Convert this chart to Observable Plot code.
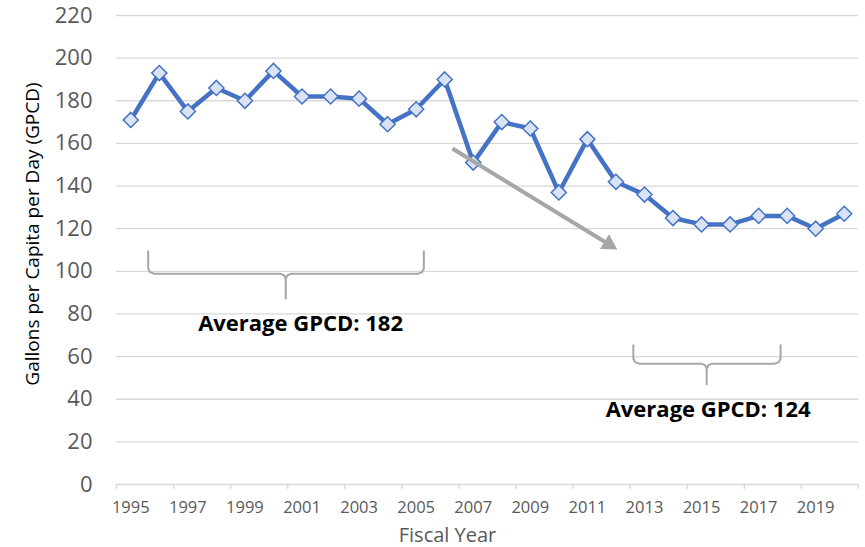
<!DOCTYPE html>
<html>
<head>
<meta charset="utf-8">
<script src="https://cdn.jsdelivr.net/npm/d3@7"></script>
<script src="https://cdn.jsdelivr.net/npm/@observablehq/plot@0.6"></script>
<style>
  html, body { margin: 0; padding: 0; background: #fff; }
  #chart { width: 865px; height: 547px; }
</style>
</head>
<body>
<div id="chart"></div>
<script>
// ---- data ----
const years = [1995, 1996, 1997, 1998, 1999, 2000, 2001, 2002, 2003, 2004, 2005, 2006, 2007,
               2008, 2009, 2010, 2011, 2012, 2013, 2014, 2015, 2016, 2017, 2018, 2019, 2020];
const gpcd  = [171, 193, 175, 186, 180, 194, 182, 182, 181, 169, 176, 190, 151,
               170, 167, 137, 162, 142, 136, 125, 122, 122, 126, 126, 120, 127];
const xTickLabels = [1995, 1997, 1999, 2001, 2003, 2005, 2007, 2009, 2011, 2013, 2015, 2017, 2019];
const xTickMarks = [1994.5, 1996.5, 1998.5, 2000.5, 2002.5, 2004.5, 2006.5, 2008.5, 2010.5,
                    2012.5, 2014.5, 2016.5, 2018.5, 2020.5];
const yTicks = [0, 20, 40, 60, 80, 100, 120, 140, 160, 180, 200, 220];

// annotations (in data units)
const avgTexts = ["Average GPCD: 182", "Average GPCD: 124"];
const avgTextX = [2000.95, 2015.23];
const avgTextY = [75.4, 35.2];
// brackets: [left x, right x, middle x, top y, bottom y, tip y]
const bracket1 = [1995.61, 2005.27, 2000.43, 109.4, 98.9, 87.2];
const bracket2 = [2012.61, 2017.77, 2015.18, 65.3, 56.7, 47.0];
// trend arrow: shaft start and arrowhead centre
const trendArrow = {x1: 2006.27, y1: 157.6, x2: 2011.75, y2: 112.7};

// ---- build tables ----
const data = years.map((year, i) => ({year, gpcd: gpcd[i]}));
const avgData = avgTexts.map((t, i) => ({text: t, x: avgTextX[i], y: avgTextY[i]}));

function bracketPath([x0, x1, xm, top, bot, tip], id) {
  const rx = 0.2, ry = 2.4;
  const pts = [
    [x0, top], [x0, bot + ry], [x0 + rx * 0.3, bot + ry * 0.3], [x0 + rx, bot],
    [xm - rx, bot], [xm - rx * 0.3, bot - ry * 0.3], [xm, bot - ry], [xm, tip],
    [xm, bot - ry], [xm + rx * 0.3, bot - ry * 0.3], [xm + rx, bot],
    [x1 - rx, bot], [x1 - rx * 0.3, bot + ry * 0.3], [x1, bot + ry], [x1, top]
  ];
  return pts.map(([x, y]) => ({x, y, id}));
}
const brackets = [...bracketPath(bracket1, "a"), ...bracketPath(bracket2, "b")];

const chart = Plot.plot({
  width: 865,
  height: 547,
  marginLeft: 116,
  marginRight: 7,
  marginTop: 15,
  marginBottom: 63,
  style: {fontFamily: "'Open Sans', sans-serif", background: "#fff"},
  x: {domain: [1994.5, 2020.5], label: null},
  y: {domain: [0, 220], label: null},
  marks: [
    Plot.ruleY(yTicks.filter(d => d > 0), {stroke: "#d9d9d9", strokeWidth: 1.3}),
    Plot.ruleY([0], {stroke: "#d9d9d9", strokeWidth: 1.5}),
    Plot.axisX({ticks: xTickMarks, tickSize: 5, tickFormat: () => "", stroke: "#d9d9d9", strokeWidth: 1.5}),
    Plot.axisX({ticks: xTickLabels, tickSize: 0, tickPadding: 17, tickFormat: d => String(d),
                fontSize: 16.5, color: "#595959"}),
    Plot.axisY({ticks: yTicks, tickSize: 0, tickPadding: 24, fontSize: 22, color: "#595959"}),
    Plot.line(brackets, {x: "x", y: "y", z: "id", stroke: "#a6a6a6", strokeWidth: 2}),
    Plot.line(data, {x: "year", y: "gpcd", stroke: "#4472c4", strokeWidth: 4.5}),
    Plot.dot(data, {x: "year", y: "gpcd", symbol: "diamond2", r: 6.8,
                    fill: "#dae3f3", stroke: "#4472c4", strokeWidth: 1.5}),
    Plot.link([trendArrow], {x1: "x1", y1: "y1", x2: "x2", y2: "y2",
                             stroke: "#a6a6a6", strokeWidth: 4}),
    Plot.dot([trendArrow], {x: "x2", y: "y2", symbol: "triangle", r: 6.4,
                            rotate: 121.5, fill: "#a6a6a6", stroke: "none"}),
    Plot.text(avgData, {x: "x", y: "y", text: "text", fontSize: 22, fontWeight: "bold", fill: "#000"}),
    Plot.text(["Gallons per Capita per Day (GPCD)"], {frameAnchor: "left", rotate: -90,
              textAnchor: "middle", lineAnchor: "middle",
              dx: -84, dy: -16, fontSize: 19, fill: "#000"}),
    Plot.text(["Fiscal Year"], {frameAnchor: "bottom", textAnchor: "middle", lineAnchor: "middle",
              dx: -40, dy: 51, fontSize: 20, fill: "#595959"})
  ]
});
document.getElementById("chart").appendChild(chart);
</script>
</body>
</html>
